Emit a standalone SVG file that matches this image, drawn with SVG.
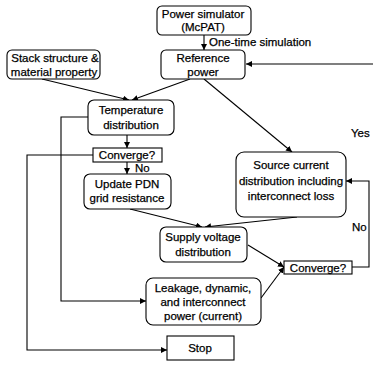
<svg xmlns="http://www.w3.org/2000/svg" width="373" height="366" viewBox="0 0 373 366">
<style>
.n rect{fill:#fff;stroke:#000;stroke-width:1.1}
text{font-family:"Liberation Sans",Arial,sans-serif;font-size:11.5px;fill:#000;stroke:#000;stroke-width:0.25;text-anchor:middle}
.l{text-anchor:start}
.c path{fill:none;stroke:#000;stroke-width:1.1}
</style>
<defs>
<marker id="a" viewBox="0 0 10 10" refX="10" refY="5" markerWidth="6" markerHeight="6" orient="auto" markerUnits="userSpaceOnUse">
<path d="M0,0 L10,5 L0,10 z" fill="#000"/>
</marker>
</defs>
<rect width="373" height="366" fill="#fff"/>
<g class="c">
<path d="M204,35 V50" marker-end="url(#a)"/>
<path d="M373,64 H246" marker-end="url(#a)"/>
<path d="M42,79 L129,100" marker-end="url(#a)"/>
<path d="M190,79 L132,100" marker-end="url(#a)"/>
<path d="M204,79 L292,152" marker-end="url(#a)"/>
<path d="M127,135 V148" marker-end="url(#a)"/>
<path d="M127,162 V174" marker-end="url(#a)"/>
<path d="M93,155 H27 V350 H167" marker-end="url(#a)"/>
<path d="M88,117 H61 V301 H146" marker-end="url(#a)"/>
<path d="M130,209 L202,227" marker-end="url(#a)"/>
<path d="M297,217 L205,227" marker-end="url(#a)"/>
<path d="M248,245 L284,267" marker-end="url(#a)"/>
<path d="M261,298 L284,267" marker-end="url(#a)"/>
<path d="M352,267 H369 V181 H346" marker-end="url(#a)"/>
</g>
<g id="power-sim" class="n"><rect x="157" y="6" width="94" height="29" rx="5"/><text x="203" y="18">Power simulator</text><text x="203" y="31">(McPAT)</text></g>
<text class="l" x="209" y="46">One-time simulation</text>
<g id="ref-power" class="n"><rect x="161" y="50" width="84" height="29" rx="5"/><text x="203" y="62">Reference</text><text x="203" y="76">power</text></g>
<g id="stack" class="n"><rect x="7" y="50" width="93" height="29" rx="5"/><text x="55" y="62">Stack structure &amp;</text><text x="54" y="76">material property</text></g>
<g id="temp" class="n"><rect x="88" y="100" width="86" height="35" rx="6"/><text x="131" y="114">Temperature</text><text x="131" y="129">distribution</text></g>
<g id="conv1" class="n"><rect x="93" y="148" width="69" height="14"/><text x="127" y="159">Converge?</text></g>
<text class="l" x="135" y="172">No</text>
<g id="update" class="n"><rect x="84" y="174" width="87" height="35" rx="6"/><text x="127" y="188">Update PDN</text><text x="127" y="202">grid resistance</text></g>
<g id="source" class="n"><rect x="236" y="152" width="110" height="65" rx="8"/><text x="291" y="169">Source current</text><text x="291" y="185">distribution including</text><text x="291" y="200">interconnect loss</text></g>
<text class="l" x="351" y="137">Yes</text>
<text class="l" x="352" y="231">No</text>
<g id="supply" class="n"><rect x="160" y="227" width="87" height="35" rx="6"/><text x="203" y="241">Supply voltage</text><text x="203" y="256">distribution</text></g>
<g id="conv2" class="n"><rect x="284" y="261" width="68" height="13"/><text x="318" y="271.5">Converge?</text></g>
<g id="leak" class="n"><rect x="146" y="278" width="115" height="47" rx="7"/><text x="203" y="292">Leakage, dynamic,</text><text x="203" y="306">and interconnect</text><text x="203" y="320">power (current)</text></g>
<g id="stop" class="n"><rect x="167" y="336" width="67" height="24"/><text x="200" y="352">Stop</text></g>
</svg>
